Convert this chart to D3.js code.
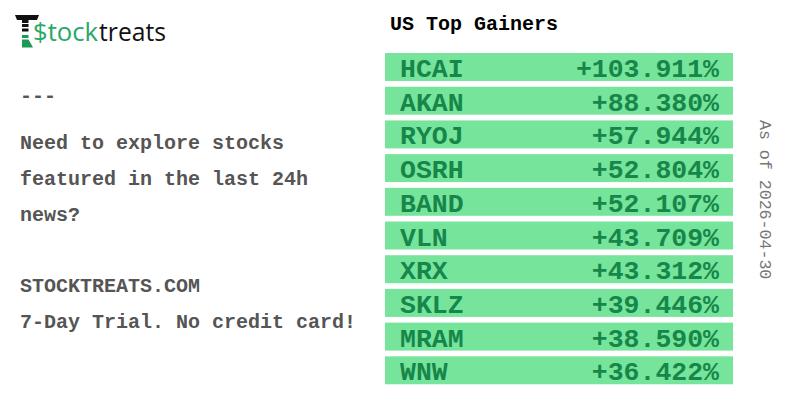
<!DOCTYPE html>
<html><head><meta charset="utf-8">
<script src="https://cdn.jsdelivr.net/npm/d3@7"></script>
<style>html,body{margin:0;padding:0;background:#fff}svg{display:block}text{font-family:"Liberation Mono",monospace}</style>
</head><body><svg id="c" width="800" height="400"></svg>
<script>
const tickers = ["HCAI","AKAN","RYOJ","OSRH","BAND","VLN","XRX","SKLZ","MRAM","WNW"];
const gains = [103.911,88.380,57.944,52.804,52.107,43.709,43.312,39.446,38.590,36.422];
const noteLines = ["---","Need to explore stocks","featured in the last 24h","news?","STOCKTREATS.COM","7-Day Trial. No credit card!"];
const noteRows = [-0.31,1,2,3,5,6];
const title = "US Top Gainers";
const asOf = "As of 2026-04-30";

const svg = d3.select("#c");
const y = d3.scaleBand().domain(tickers).range([53,384.3]).paddingInner(0.17).paddingOuter(0);
const rows = svg.selectAll("g.row").data(tickers).join("g").attr("class","row")
  .attr("transform",d=>`translate(0,${y(d)})`);
rows.append("rect").attr("x",385).attr("width",348).attr("height",y.bandwidth()).attr("fill","#77e49b");
rows.append("text").attr("x",400).attr("y",24).attr("font-size",26.5).attr("font-weight","bold").attr("fill","#16874a").text(d=>d);
rows.append("text").attr("x",719).attr("y",24).attr("text-anchor","end").attr("font-size",26.5).attr("font-weight","bold").attr("fill","#16874a")
  .text((d,i)=>"+"+d3.format(".3f")(gains[i])+"%");
svg.append("text").attr("x",390).attr("y",30).attr("font-size",20).attr("font-weight","bold").attr("fill","#000").text(title);
const lineY = d3.scaleLinear().domain([1,6]).range([149,328]);
svg.selectAll("text.note").data(noteLines).join("text").attr("class","note")
  .attr("x",20).attr("y",(d,i)=>lineY(noteRows[i])).attr("font-size",20).attr("font-weight","bold").attr("fill","#555").text(d=>d);
svg.append("text").attr("transform","translate(760,120) rotate(90)").attr("font-size",16.6).attr("fill","#777").text(asOf);
// logo
const logo = svg.append("g");
logo.append("text").attr("x",33).attr("y",41).attr("font-size",25.5).style("font-family","'Open Sans'").attr("textLength",65).attr("lengthAdjust","spacingAndGlyphs").attr("fill","#2aa866").text("$tock");
logo.append("text").attr("x",99).attr("y",41).attr("font-size",25.5).style("font-family","'Open Sans'").attr("textLength",67).attr("lengthAdjust","spacingAndGlyphs").attr("fill","#111").text("treats");
logo.append("path").attr("d","M15 15H39L37 20H17Z").attr("fill","#111");
logo.selectAll("rect.b").data([20,24,28.5]).join("rect").attr("class","b").attr("x",22).attr("y",d=>d).attr("width",6.5).attr("height",3).attr("fill","#111");
logo.append("rect").attr("x",22).attr("y",35).attr("width",6.5).attr("height",3).attr("fill","#1a9a55");
logo.append("path").attr("d","M22 39.5H28.5L33 47.5H22Z").attr("fill","#1a9a55");
</script></body></html>
